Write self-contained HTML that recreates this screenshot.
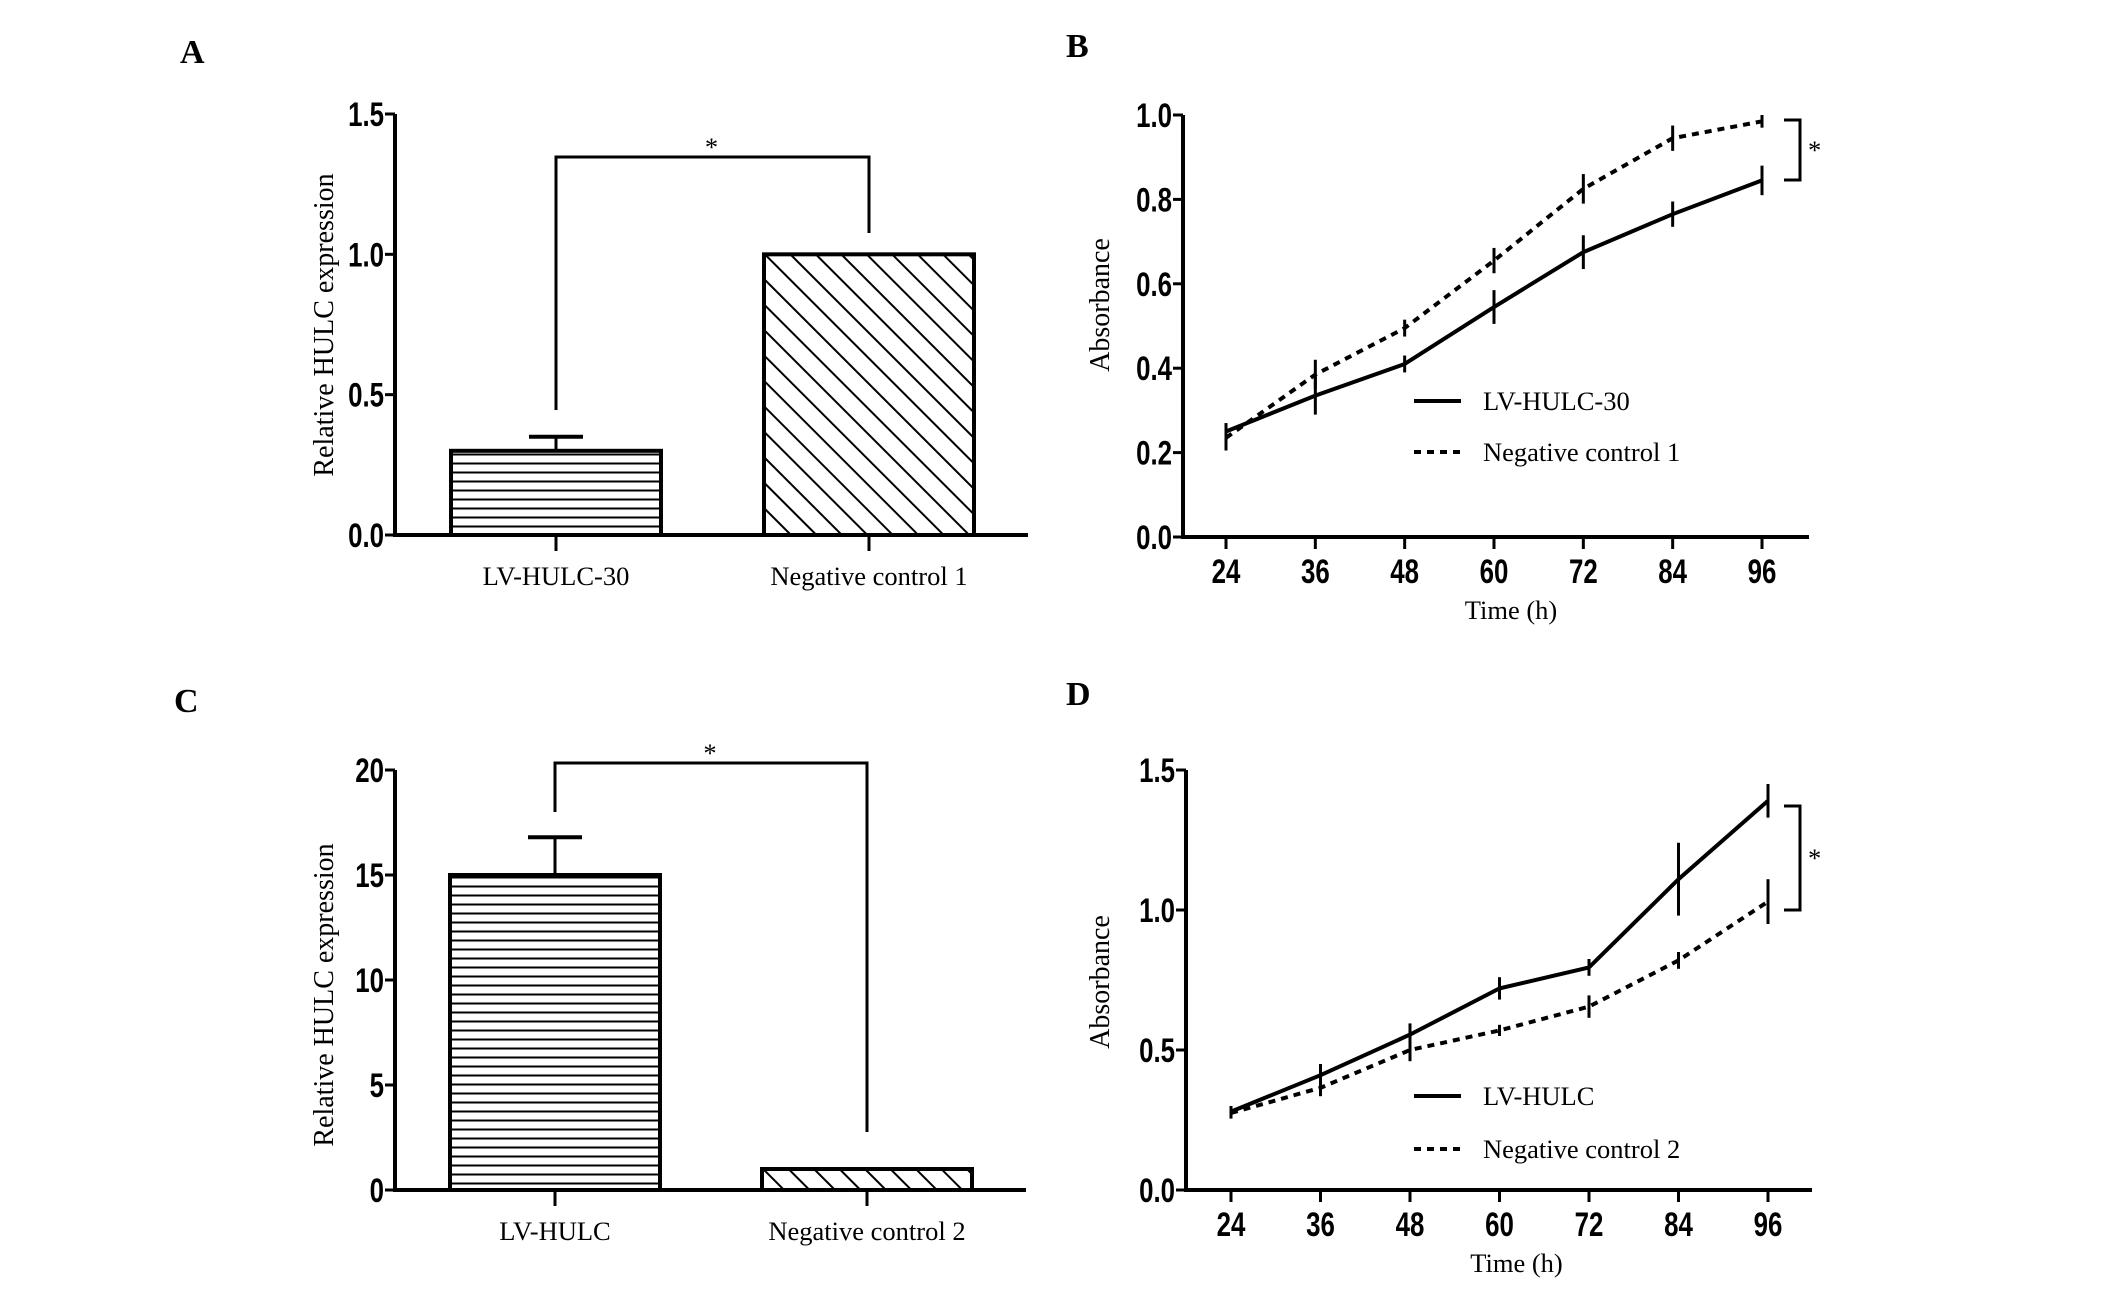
<!DOCTYPE html>
<html><head><meta charset="utf-8"><style>
html,body{margin:0;padding:0;background:#fff;}
svg{display:block;}
.tick{font-family:"Liberation Sans",sans-serif;font-weight:bold;font-size:34px;}
.lab{font-family:"Liberation Serif",serif;font-size:26.5px;}
.ylab{font-family:"Liberation Serif",serif;font-size:28px;}
.pl{font-family:"Liberation Serif",serif;font-weight:bold;font-size:34px;}
</style></head><body>
<svg id="fig" width="2126" height="1291" viewBox="0 0 2126 1291" xmlns="http://www.w3.org/2000/svg">
<defs>
<pattern id="hz" patternUnits="userSpaceOnUse" width="10" height="9"><line x1="0" y1="4.5" x2="10" y2="4.5" stroke="#000" stroke-width="2"/></pattern>
<pattern id="dg" patternUnits="userSpaceOnUse" width="18" height="18" patternTransform="rotate(-45)"><line x1="0" y1="0" x2="0" y2="18" stroke="#000" stroke-width="4"/></pattern>
</defs>
<text class="pl" x="180" y="63">A</text>
<text class="pl" x="1066" y="57">B</text>
<text class="pl" x="174" y="712">C</text>
<text class="pl" x="1066" y="705">D</text>
</svg>
<script>
// Panel A data
const aCats = ["LV-HULC-30", "Negative control 1"];
const aVals = [0.30, 1.00];
const aErr = [0.05, 0];
const aTicks = [0.0, 0.5, 1.0, 1.5];
const aTickLabels = ["0.0", "0.5", "1.0", "1.5"];
// Panel C data
const cCats = ["LV-HULC", "Negative control 2"];
const cVals = [15.0, 1.0];
const cErr = [1.8, 0];
const cTicks = [0, 5, 10, 15, 20];
const cTickLabels = ["0", "5", "10", "15", "20"];
// Panel B data
const bTimes = [24, 36, 48, 60, 72, 84, 96];
const bSolid = [0.25, 0.335, 0.41, 0.545, 0.675, 0.765, 0.845];
const bSolidErr = [0.02, 0.045, 0.02, 0.04, 0.04, 0.03, 0.035];
const bDash = [0.235, 0.385, 0.495, 0.655, 0.825, 0.945, 0.985];
const bDashErr = [0.03, 0.035, 0.02, 0.03, 0.035, 0.03, 0.015];
const bTicks = [0.0, 0.2, 0.4, 0.6, 0.8, 1.0];
const bTickLabels = ["0.0", "0.2", "0.4", "0.6", "0.8", "1.0"];
// Panel D data
const dTimes = [24, 36, 48, 60, 72, 84, 96];
const dSolid = [0.28, 0.41, 0.555, 0.72, 0.795, 1.11, 1.39];
const dSolidErr = [0.02, 0.04, 0.04, 0.04, 0.03, 0.13, 0.06];
const dDash = [0.275, 0.365, 0.5, 0.57, 0.655, 0.82, 1.03];
const dDashErr = [0.02, 0.03, 0.04, 0.02, 0.04, 0.03, 0.08];
const dTicks = [0.0, 0.5, 1.0, 1.5];
const dTickLabels = ["0.0", "0.5", "1.0", "1.5"];

const svg = document.getElementById('fig');
const NS = 'http://www.w3.org/2000/svg';
function mk(tag, attrs, parent) {
  const e = document.createElementNS(NS, tag);
  for (const k in attrs) e.setAttribute(k, attrs[k]);
  (parent || svg).appendChild(e);
  return e;
}
function txt(str, attrs, parent) { const t = mk('text', attrs, parent); t.textContent = str; return t; }
function tickTxt(str, x, y, anchor, parent) {
  return txt(str, {class: 'tick', x: 0, y: 0, 'text-anchor': anchor, transform: `translate(${x},${y}) scale(0.76,1)`}, parent);
}

function barPanel(p) {
  const g = mk('g', {});
  
  
  const y = v => p.y0 - (v - p.min) / (p.max - p.min) * (p.y0 - p.yTop);
  const ax = mk('path', {d: `M${p.ax} ${p.yTop} V${p.y0} H${p.axEnd}`, stroke: '#000', 'stroke-width': 4, fill: 'none'}, g);
  
  
  p.ticks.forEach((t, i) => {
    mk('line', {x1: p.ax - 10, x2: p.ax, y1: y(t), y2: y(t), stroke: '#000', 'stroke-width': 3}, g);
    const tl = tickTxt(p.tickLabels[i], p.ax - 11, y(t) + 12, 'end', g);
    
    
  });
  const yl = txt(p.ylabel, {class: 'ylab', x: 0, y: 0, 'text-anchor': 'middle', transform: `translate(${p.ylx},${p.yly}) rotate(-90)`}, g);
  
  
  const fills = ['url(#hz)', 'url(#dg)'];
  p.cats.forEach((c, i) => {
    const cx = p.cx[i];
    const b = mk('rect', {x: cx - p.bw / 2, y: y(p.vals[i]), width: p.bw, height: p.y0 - y(p.vals[i]), fill: fills[i], stroke: '#000', 'stroke-width': 4}, g);
    
    
    if (p.err[i] > 0) {
      mk('line', {x1: cx, x2: cx, y1: y(p.vals[i]), y2: y(p.vals[i] + p.err[i]), stroke: '#000', 'stroke-width': 3}, g);
      mk('line', {x1: cx - 27, x2: cx + 27, y1: y(p.vals[i] + p.err[i]), y2: y(p.vals[i] + p.err[i]), stroke: '#000', 'stroke-width': 4}, g);
    }
    mk('line', {x1: cx, x2: cx, y1: p.y0, y2: p.y0 + 16, stroke: '#000', 'stroke-width': 3}, g);
    const cl = txt(c, {class: 'lab', x: cx, y: p.y0 + 50, 'text-anchor': 'middle'}, g);
    
    
  });
  const br = mk('path', {d: `M${p.cx[0]} ${p.brL} V${p.brY} H${p.cx[1]} V${p.brR}`, stroke: '#000', 'stroke-width': 3, fill: 'none'}, g);
  
  
  const st = txt('*', {class: 'lab', x: (p.cx[0] + p.cx[1]) / 2 - 1, y: p.brY - 1, 'text-anchor': 'middle'}, g);
  
  
}

function linePanel(p) {
  const g = mk('g', {});
  
  
  const y = v => p.y0 - (v - p.min) / (p.max - p.min) * (p.y0 - p.yTop);
  const x = t => p.x24 + (t - p.times[0]) / (p.times[p.times.length - 1] - p.times[0]) * (p.x96 - p.x24);
  const ax = mk('path', {d: `M${p.ax} ${p.yTop} V${p.y0} H${p.axEnd}`, stroke: '#000', 'stroke-width': 4, fill: 'none'}, g);
  
  
  p.ticks.forEach((t, i) => {
    mk('line', {x1: p.ax - 10, x2: p.ax, y1: y(t), y2: y(t), stroke: '#000', 'stroke-width': 3}, g);
    const tl = tickTxt(p.tickLabels[i], p.ax - 11, y(t) + 12, 'end', g);
    
    
  });
  p.times.forEach(t => {
    mk('line', {x1: x(t), x2: x(t), y1: p.y0, y2: p.y0 + 12, stroke: '#000', 'stroke-width': 3}, g);
    const tl = tickTxt(String(t), x(t), p.y0 + 46, 'middle', g);
    
    
  });
  const xl = txt('Time (h)', {class: 'lab', x: (p.x24 + p.x96) / 2 + 17, y: p.y0 + 82, 'text-anchor': 'middle'}, g);
  
  
  const yl = txt('Absorbance', {class: 'ylab', x: 0, y: 0, 'text-anchor': 'middle', transform: `translate(${p.ylx},${p.yly}) rotate(-90)`}, g);
  
  
  [[p.solid, p.solidErr, null, 'series-' + p.solidName], [p.dash, p.dashErr, '7 6', 'series-negative-control']].forEach(([vals, errs, dash, nm]) => {
    const d = vals.map((v, i) => (i ? 'L' : 'M') + x(p.times[i]) + ' ' + y(v)).join(' ');
    const a = {d: d, stroke: '#000', 'stroke-width': 4, fill: 'none'};
    if (dash) a['stroke-dasharray'] = dash;
    const ln = mk('path', a, g);
    
    
    vals.forEach((v, i) => {
      const eb = mk('line', {x1: x(p.times[i]), x2: x(p.times[i]), y1: y(v - errs[i]), y2: y(v + errs[i]), stroke: '#000', 'stroke-width': 3}, g);
      
      
    });
  });
  const lg = mk('g', {}, g);
  
  
  mk('line', {x1: p.lgx, x2: p.lgx + 47, y1: p.lgy1, y2: p.lgy1, stroke: '#000', 'stroke-width': 4}, lg);
  mk('line', {x1: p.lgx, x2: p.lgx + 47, y1: p.lgy2, y2: p.lgy2, stroke: '#000', 'stroke-width': 4, 'stroke-dasharray': '7 6'}, lg);
  const e1 = txt(p.leg1, {class: 'lab', x: p.lgx + 69, y: p.lgy1 + 9}, lg);
  
  
  const e2 = txt(p.leg2, {class: 'lab', x: p.lgx + 69, y: p.lgy2 + 9}, lg);
  
  
  const br = mk('path', {d: `M1784 ${p.brT} H1800 V${p.brB} H1784`, stroke: '#000', 'stroke-width': 3, fill: 'none'}, g);
  
  
  const st = txt('*', {class: 'lab', x: 1808, y: (p.brT + p.brB) / 2 + 9}, g);
  
  
}

barPanel({name: 'panel-a-bar-chart', cats: aCats, vals: aVals, err: aErr, ticks: aTicks, tickLabels: aTickLabels, min: 0, max: 1.5,
  ax: 395, axEnd: 1028, yTop: 114, y0: 535, cx: [556, 869], bw: 210, ylabel: 'Relative HULC expression', ylx: 333, yly: 325,
  brY: 157, brL: 410, brR: 233});
barPanel({name: 'panel-c-bar-chart', cats: cCats, vals: cVals, err: cErr, ticks: cTicks, tickLabels: cTickLabels, min: 0, max: 20,
  ax: 395, axEnd: 1026, yTop: 770, y0: 1190, cx: [555, 867], bw: 210, ylabel: 'Relative HULC expression', ylx: 333, yly: 995,
  brY: 763, brL: 812, brR: 1132});
linePanel({name: 'panel-b-line-chart', times: bTimes, solid: bSolid, solidErr: bSolidErr, dash: bDash, dashErr: bDashErr, solidName: 'lv-hulc-30',
  ticks: bTicks, tickLabels: bTickLabels, min: 0, max: 1.0, ax: 1183, axEnd: 1809, yTop: 115, y0: 537, x24: 1226, x96: 1762,
  ylx: 1109, yly: 305, lgx: 1414, lgy1: 401, lgy2: 452, leg1: 'LV-HULC-30', leg2: 'Negative control 1', brT: 120, brB: 180});
linePanel({name: 'panel-d-line-chart', times: dTimes, solid: dSolid, solidErr: dSolidErr, dash: dDash, dashErr: dDashErr, solidName: 'lv-hulc',
  ticks: dTicks, tickLabels: dTickLabels, min: 0, max: 1.5, ax: 1186, axEnd: 1812, yTop: 770, y0: 1190, x24: 1231, x96: 1768,
  ylx: 1109, yly: 982, lgx: 1414, lgy1: 1096, lgy2: 1149, leg1: 'LV-HULC', leg2: 'Negative control 2', brT: 806, brB: 910});
</script>
</body></html>
